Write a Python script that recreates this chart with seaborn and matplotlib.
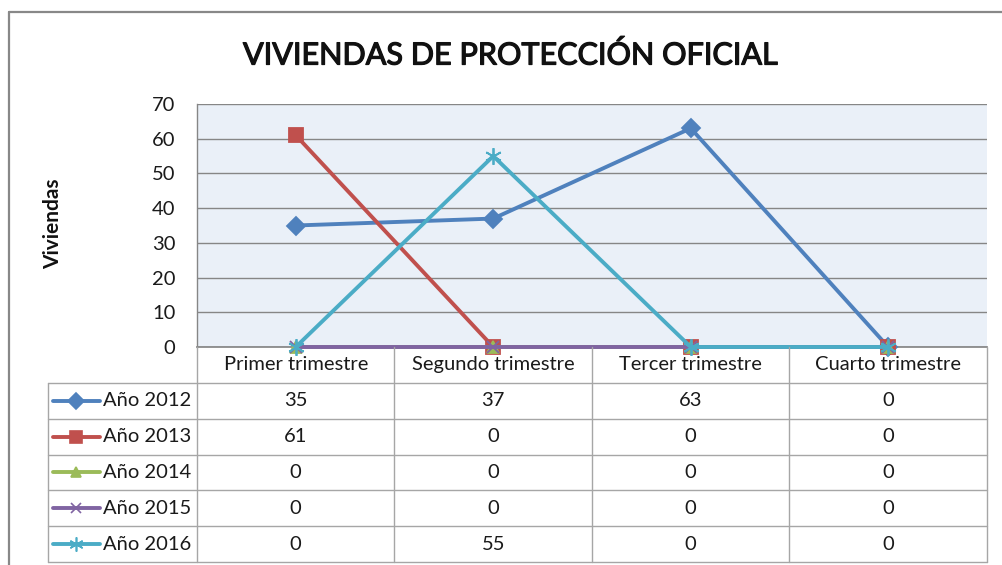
import numpy as np
import pandas as pd
import matplotlib
matplotlib.use("Agg")
import matplotlib.pyplot as plt
import matplotlib.patheffects as pe
import seaborn as sns
from matplotlib.lines import Line2D

# === datos ===
categories = ['Primer trimestre', 'Segundo trimestre', 'Tercer trimestre', 'Cuarto trimestre']
series = ['Año 2012', 'Año 2013', 'Año 2014', 'Año 2015', 'Año 2016']
v2012 = [35, 37, 63, 0]
v2013 = [61, 0, 0, 0]
v2014 = [0, 0, 0, 0]
v2015 = [0, 0, 0, 0]
v2016 = [0, 55, 0, 0]
yticks = [0, 10, 20, 30, 40, 50, 60, 70]

values = [v2012, v2013, v2014, v2015, v2016]
colors = ['#4F81BD', '#C0504D', '#9BBB59', '#8064A2', '#4BACC6']
markers = ['D', 's', '^', 'x', (6, 2, 0)]
msizes = [9, 10, 9, 9, 12]

sns.set_theme(style='white')
plt.rcParams['font.family'] = ['Lato', 'DejaVu Sans']

W, H = 1003, 565
fig = plt.figure(figsize=(W / 100, H / 100), dpi=100)
fs = 14.5
tcol = '#1a1a1a'

# posiciones en pixeles
px_left, px_right = 197, 987
px_top, px_zero = 104, 347
px_tab_left, px_tab_bottom = 48, 562

ax = fig.add_axes([px_left / W, 1 - px_zero / H,
                   (px_right - px_left) / W, (px_zero - px_top) / H])
ax.set_facecolor('#EAF0F8')

xpos = np.arange(len(categories))
for name, vals, c, m, ms in zip(series, values, colors, markers, msizes):
    sns.lineplot(x=xpos, y=vals, color=c, marker=m, markersize=ms,
                 markeredgecolor=c, markerfacecolor=c, markeredgewidth=1.3,
                 linewidth=2.8, ax=ax, zorder=3, clip_on=False, label=name,
                 legend=False)

ax.set_xlim(-0.5, len(categories) - 0.5)
ax.set_ylim(0, 70)
ax.set_yticks(yticks)
ax.set_xticks([])
ax.set_xlabel('')
ax.set_ylabel('')
ax.yaxis.grid(True, color='#868686', linewidth=1)
ax.set_axisbelow(True)
ax.tick_params(axis='y', length=0, pad=15.5, labelsize=fs, labelcolor=tcol)
for side in ['top', 'right']:
    ax.spines[side].set_visible(False)
ax.spines['left'].set_color('#868686')
ax.spines['bottom'].set_color('#868686')
ax.spines['left'].set_linewidth(1)
if ax.get_legend():
    ax.get_legend().remove()

# === tabla de datos ===
unit = (px_right - px_left) / len(categories)
x0 = -0.5 - (px_left - px_tab_left) / unit
tab = fig.add_axes([px_tab_left / W, 1 - px_tab_bottom / H,
                    (px_right - px_tab_left) / W, (px_tab_bottom - px_zero) / H])
tab.set_xlim(x0, len(categories) - 0.5)
nrows = len(series) + 1
tab.set_ylim(nrows, 0)
tab.axis('off')

gcol = '#A6A6A6'
for r in range(1, nrows + 1):
    tab.plot([x0, len(categories) - 0.5], [r, r], color=gcol, lw=1, clip_on=False)
for i in range(len(categories) + 1):
    tab.plot([i - 0.5, i - 0.5], [0, nrows], color=gcol, lw=1, clip_on=False)
tab.plot([x0, x0], [1, nrows], color=gcol, lw=1, clip_on=False)

for i, cat in enumerate(categories):
    tab.text(i, 0.5, cat, ha='center', va='center', fontsize=fs, color=tcol)

for r, (name, vals, c, m, ms) in enumerate(zip(series, values, colors, markers, msizes)):
    yy = r + 1.5
    for i, v in enumerate(vals):
        tab.text(i, yy, str(v), ha='center', va='center', fontsize=fs, color=tcol)
    lx = [x0 + (53 - px_tab_left) / unit, x0 + (100 - px_tab_left) / unit]
    tab.plot(lx, [yy, yy], color=c, lw=2.8, solid_capstyle='round', clip_on=False)
    tab.plot([np.mean(lx)], [yy], marker=m, color=c, markersize=ms * 0.85,
             markeredgewidth=1.2, clip_on=False)
    tab.text(x0 + (103 - px_tab_left) / unit, yy, name, ha='left', va='center',
             fontsize=fs, color=tcol)

# === titulo, etiqueta y borde ===
fig.text(509 / W, 1 - 55 / H, 'VIVIENDAS DE PROTECCIÓN OFICIAL', ha='center',
         va='center', fontsize=22, color='#111111',
         path_effects=[pe.withStroke(linewidth=0.9, foreground='#111111')])
fig.text(53 / W, 1 - 224 / H, 'Viviendas', rotation=90, ha='center', va='center',
         fontsize=15, fontweight='bold', color='#111111')

fig.add_artist(Line2D([9 / W, 1], [1 - 12 / H, 1 - 12 / H], color='#888888', lw=1.6))
fig.add_artist(Line2D([9 / W, 9 / W], [1 - 12 / H, 0], color='#888888', lw=1.6))

fig.savefig('out.png', dpi=100, facecolor='white')
plt.close(fig)
